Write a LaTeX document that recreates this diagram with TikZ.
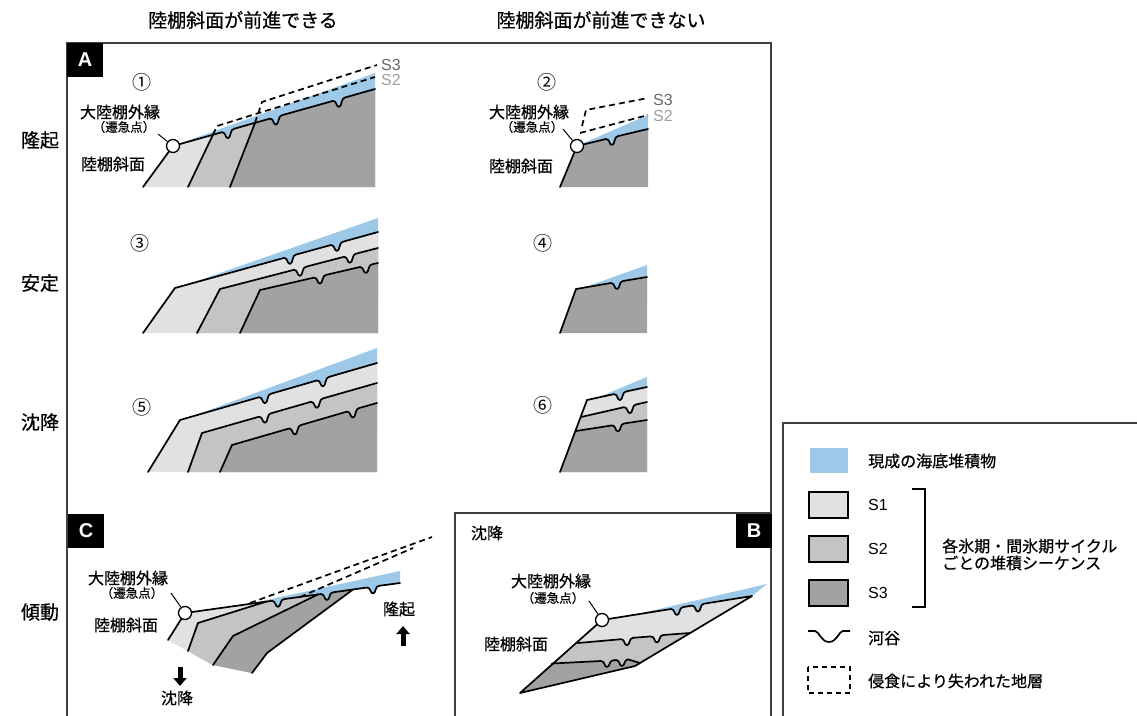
\documentclass[tikz,border=0pt]{standalone}
\usepackage{fontspec}
\setmainfont{Liberation Sans}
\newfontfamily\jp[FakeBold=0.6]{Noto Sans CJK JP}
\newfontfamily\jpthin{Noto Sans CJK JP}
\usetikzlibrary{arrows.meta}

\definecolor{sone}{HTML}{E1E1E1}
\definecolor{stwo}{HTML}{C4C4C4}
\definecolor{sthree}{HTML}{A2A2A2}
\definecolor{sea}{HTML}{9DC8E8}

\tikzset{
  bd/.style={line width=1.7pt, line join=round, line cap=round},
  lost/.style={line width=1.7pt, dash pattern=on 6pt off 4pt},
  rim/.style={circle, draw=black, fill=white, line width=1.3pt, minimum size=13pt, inner sep=0pt},
  hdr/.style={font=\jp\fontsize{19}{22}\selectfont, inner sep=0pt},
  lbl/.style={font=\jp\fontsize{16}{18}\selectfont, inner sep=0pt},
  sublbl/.style={font=\jp\fontsize{12.5}{14}\selectfont, inner sep=0pt},
  cnum/.style={font=\jpthin\fontsize{19}{21}\selectfont, inner sep=0pt},
  lettbox/.style={fill=black, text=white, font=\bfseries\fontsize{20}{22}\selectfont, minimum width=36pt, minimum height=34pt, inner sep=0pt},
  frm/.style={draw=black!75, line width=1.5pt},
  lgd/.style={font=\jp\fontsize{16}{18}\selectfont, inner sep=0pt, anchor=west},
  seq/.style={font=\fontsize{16}{18}\selectfont, inner sep=0pt, anchor=west},
  swatch/.style={draw=black, line width=1.5pt},
  lead/.style={line width=1pt},
  push/.style={-{Triangle[width=13pt,length=8pt]}, line width=5pt},
}

% river valley cut into a shelf top, #1 = rise over the notch
\newcommand{\vly}[1]{.. controls +(4,0) and +(-3,0) .. ++(6,6) .. controls +(3,0) and +(-4,0) .. ++(6,{#1-6})}

\def\upa{(173,146) -- (222,132.2) \vly{-3.4} -- (270,118.6) \vly{-3.4} -- (333,100.9) \vly{-3.4} -- (375,89)}
\def\upb{(577,146) -- (606,139) \vly{-2.9} -- (648,129)}
\def\stA{(175,288) -- (284,257.9) \vly{-3.3} -- (331,245) \vly{-3.3} -- (378,232)}
\def\stB{(220,289) -- (294,269.8) \vly{-3.1} -- (344,256.8) \vly{-3.1} -- (378,248)}
\def\stC{(260,290) -- (314,277.6) \vly{-2.7} -- (360,267) \vly{-2.7} -- (378,263)}
\def\stD{(576,289) -- (611,283) \vly{-2} -- (647,277)}
\def\snA{(180,420) -- (259,397.2) \vly{-3.5} -- (317,380.4) \vly{-3.5} -- (377,363)}
\def\snB{(202,433) -- (259,416.7) \vly{-3.4} -- (311,401.8) \vly{-3.4} -- (377,383)}
\def\snC{(232,445) -- (289,428.5) \vly{-3.5} -- (347,411.6) \vly{-3.5} -- (377,403)}
\def\snD{(587,400) -- (614,394.1) \vly{-2.6} -- (647,387)}
\def\snE{(581,417) -- (624,407.2) \vly{-2.7} -- (647,402)}
\def\snF{(576,431) -- (612,425.4) \vly{-1.9} -- (647,420)}
\def\tiltTail{-- (272,600.8) \vly{-1.7} -- (321,594) \vly{-1.7} -- (367,587.5) \vly{-1.7} -- (400,583)}
\def\sinkTail{-- (671,609) \vly{-1.9} -- (692,605.6) \vly{-1.9} -- (752,596)}
\def\sinkS{(578,643) -- (621,639.2) \vly{-1.4} -- (651,636.4) \vly{-1.4} -- (690,633)}
\def\sinkT{(552,663.5) -- (601,661) \vly{-0.6} -- (616,660) \vly{-0.6} -- (640,663)}

\begin{document}
\begin{tikzpicture}[x=1pt, y=-1pt]
\useasboundingbox (0,0) rectangle (1137,715);
\clip (0,0) rectangle (1137,715);

\node[hdr] (hadv) at (243,20) {陸棚斜面が前進できる};
\node[hdr] (hnoadv) at (601,20) {陸棚斜面が前進できない};
\node[hdr] (rup) at (40,140) {隆起};
\node[hdr] (rst) at (40,283) {安定};
\node[hdr] (rsub) at (40,422) {沈降};
\node[hdr] (rtilt) at (40,612) {傾動};

\draw[frm] (67,740) -- (67,43) -- (771,43) -- (771,740);
\draw[frm] (455,740) -- (455,513) -- (771,513);
\draw[frm] (783,740) -- (783,423) -- (1150,423);

% 1
\fill[sea] (173,146) -- (375,73) -- (375,160) -- (185,160) -- cycle;
\begin{scope}
  \clip (143,187) -- \upa -- (375,187) -- cycle;
  \fill[sone] (100,40) rectangle (380,190);
  \fill[stwo] (188,187) -- (213,134.7) -- (240,40) -- (380,40) -- (380,190) -- cycle;
  \fill[sthree] (230,187) -- (255,122.9) -- (290,40) -- (380,40) -- (380,190) -- cycle;
\end{scope}
\draw[bd] (143,187) -- \upa;
\draw[bd] (188,187) -- (213,134.7);
\draw[bd] (230,187) -- (255,122.9);
\draw[lost] (213,134.7) -- (217,126) -- (375,77);
\draw[lost] (255,122.9) -- (262,102) -- (377,65);
\node[rim] (ka) at (173,146) {};
\node[cnum] (na) at (142,82) {①};
\node[seq, text=black!60] (sthrA) at (381,65) {S3};
\node[seq, text=black!38] (stwoA) at (381,80) {S2};
\node[lbl] (ta) at (120,112) {大陸棚外縁};
\node[sublbl] (qa) at (124,127) {（遷急点）};
\node[lbl] (pa) at (113,164) {陸棚斜面};
\coordinate (la) at (158,134);
\draw[lead] (la) -- (ka);

% 2
\fill[sea] (577,146) -- (648,115) -- (648,160) -- (585,160) -- cycle;
\fill[sthree] (560,187) -- \upb -- (648,187) -- cycle;
\draw[bd] (560,187) -- \upb;
\draw[lost] (580,133) -- (648,115);
\draw[lost] (582,126) -- (586,110) -- (648,98);
\node[rim] (kb) at (577,146) {};
\node[cnum] (nb) at (547,82) {②};
\node[seq, text=black!60] (sthrB) at (653,100) {S3};
\node[seq, text=black!38] (stwoB) at (653,116) {S2};
\node[lbl] (tb) at (529,112) {大陸棚外縁};
\node[sublbl] (qb) at (532,127) {（遷急点）};
\node[lbl] (pb) at (521,166) {陸棚斜面};
\coordinate (lb) at (563,129);
\draw[lead] (lb) -- (kb);

% 3
\fill[sea] (185,285.2) -- (378,218) -- (378,300) -- (200,300) -- cycle;
\fill[sone] (143,333) -- \stA -- (378,333) -- cycle;
\fill[stwo] (197,333) -- \stB -- (378,333) -- cycle;
\fill[sthree] (240,333) -- \stC -- (378,333) -- cycle;
\draw[bd] (143,333) -- \stA;
\draw[bd] (197,333) -- \stB;
\draw[bd] (240,333) -- \stC;
\node[cnum] (nc) at (140,243) {③};

% 4
\fill[sea] (583,287.8) -- (647,265) -- (647,300) -- (590,300) -- cycle;
\fill[sthree] (560,333) -- \stD -- (647,333) -- cycle;
\draw[bd] (560,333) -- \stD;
\node[cnum] (nd) at (543,243) {④};

% 5
\fill[sea] (190,417.1) -- (377,348) -- (377,430) -- (200,430) -- cycle;
\fill[sone] (148,472) -- \snA -- (377,472) -- cycle;
\fill[stwo] (188,472) -- \snB -- (377,472) -- cycle;
\fill[sthree] (220,472) -- \snC -- (377,472) -- cycle;
\draw[bd] (148,472) -- \snA;
\draw[bd] (188,472) -- \snB;
\draw[bd] (220,472) -- \snC;
\node[cnum] (ne) at (142,407) {⑤};

% 6
\fill[sea] (597,397.8) -- (647,377) -- (647,420) -- (600,420) -- cycle;
\fill[sone] (560,472) -- \snD -- (647,472) -- cycle;
\fill[stwo] (560,472) -- \snE -- (647,472) -- cycle;
\fill[sthree] (560,472) -- \snF -- (647,472) -- cycle;
\draw[bd] (560,472) -- \snD;
\draw[bd] \snE;
\draw[bd] \snF;
\node[cnum] (nf) at (543,405) {⑥};

% C: tilting
\fill[sea] (247,604.3) \tiltTail -- (400,571) -- cycle;
\fill[sone] (185,613) -- (272,600.8) \vly{-1.7} -- (321,594) \vly{-1.7} -- (353,589.5) -- (267,653) -- (252,673) -- (213,665) -- (207,662) -- (168,640) -- cycle;
\fill[stwo] (188,651) -- (198,623) -- (266,601.7) -- (272,600.8) \vly{-1.7} -- (321,594) \vly{-1.7} -- (353,589.5) -- (267,653) -- (252,673) -- (213,665) -- (207,662) -- cycle;
\fill[sthree] (213,665) -- (233,636) -- (318,594.4) -- (321,594) \vly{-1.7} -- (353,589.5) -- (267,653) -- (252,673) -- cycle;
\draw[bd] (168,640) -- (185,613) \tiltTail;
\draw[bd] (188,651) -- (198,623) -- (266,601.7);
\draw[bd] (213,665) -- (233,636) -- (318,594.4);
\draw[bd] (252,673) -- (267,653) -- (353,589.5);
\draw[lost] (250,603) -- (432,537);
\draw[lost] (300,597) -- (413,548);
\node[rim] (kc) at (185,613) {};
\node[lettbox] (bxc) at (86,530.5) {C};
\node[lbl] (tc) at (128,578) {大陸棚外縁};
\node[sublbl] (qc) at (132,593) {（遷急点）};
\node[lbl] (pc) at (126,625) {陸棚斜面};
\coordinate (lc) at (171,593);
\draw[lead] (lc) -- (kc);
\coordinate (dnt) at (180,667);
\coordinate (dnh) at (180,686);
\draw[push] (dnt) -- (dnh);
\node[lbl] (sinkc) at (177,698) {沈降};
\coordinate (upt) at (403,646);
\coordinate (uph) at (403,626);
\draw[push] (upt) -- (uph);
\node[lbl] (risec) at (399,609) {隆起};

% B: subsidence
\fill[sone] (520,693) -- (602,620) \sinkTail -- (635,666) -- cycle;
\fill[stwo] (520,693) -- \sinkS -- (635,666) -- cycle;
\fill[sthree] (520,693) -- \sinkT -- (635,666) -- cycle;
\fill[sea] (632,615.2) \sinkTail -- (767,584) -- cycle;
\draw[bd] (520,693) -- (602,620) \sinkTail -- (635,666) -- cycle;
\draw[bd] \sinkS;
\draw[bd] \sinkT;
\node[rim] (kd) at (602,620) {};
\node[lbl] (sinkb) at (487,533) {沈降};
\node[lbl] (td) at (551,581) {大陸棚外縁};
\node[sublbl] (qd) at (553,598) {（遷急点）};
\node[lbl] (pd) at (516,644) {陸棚斜面};
\coordinate (ld) at (589,601);
\draw[lead] (ld) -- (kd);

\node[lettbox] (bxa) at (85,60) {A};
\node[lettbox] (bxb) at (754,530.5) {B};

% legend
\fill[sea] (810,448) rectangle (848,473);
\node[lgd] (lsea) at (868,461) {現成の海底堆積物};
\draw[swatch, fill=sone] (809,492) rectangle (848,518);
\draw[swatch, fill=stwo] (809,536) rectangle (848,562);
\draw[swatch, fill=sthree] (809,580) rectangle (848,606);
\node[seq] (lone) at (868,505) {S1};
\node[seq] (ltwo) at (868,549) {S2};
\node[seq] (lthree) at (868,593) {S3};
\draw[line width=1.2pt] (912,489) -- (925,489) -- (925,607) -- (912,607);
\node[lgd] (lcyc) at (942,546) {各氷期・間氷期サイクル};
\node[lgd] (lseq) at (942,563) {ごとの堆積シーケンス};
\draw[line width=1.7pt] (808,631) -- (815,631) .. controls (819,631) and (821,642) .. (829,642) .. controls (837,642) and (839,631) .. (843,631) -- (850,631);
\node[lgd] (lriv) at (868,638) {河谷};
\draw[line width=1.5pt, dash pattern=on 5pt off 4pt] (808,667) rectangle (850,693);
\node[lgd] (llost) at (868,681) {侵食により失われた地層};
\end{tikzpicture}
\end{document}
